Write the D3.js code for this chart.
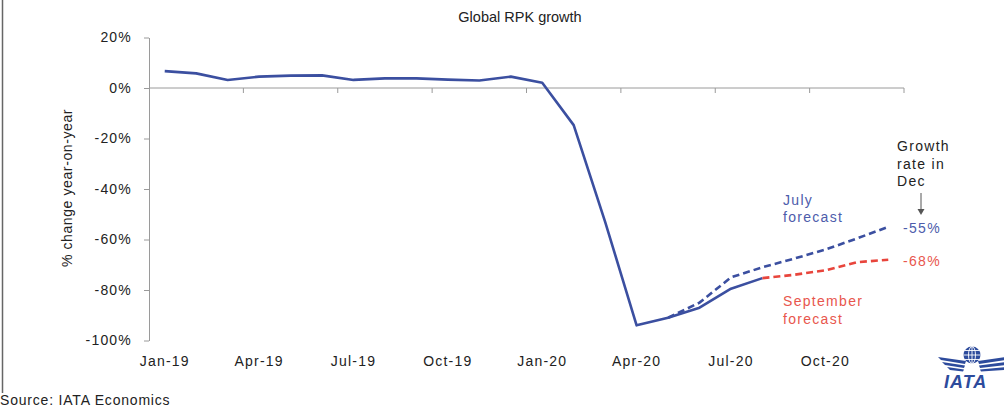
<!DOCTYPE html>
<html>
<head>
<meta charset="utf-8">
<script src="https://cdn.jsdelivr.net/npm/d3@7"></script>
<style>
  body { margin: 0; background: #fff; }
  text { font-family: "Liberation Sans", Arial, sans-serif; }
</style>
</head>
<body>
<div id="chart"></div>
<script>
// data (% change year-on-year)
var months = ["Jan-19","Feb-19","Mar-19","Apr-19","May-19","Jun-19","Jul-19","Aug-19","Sep-19","Oct-19","Nov-19","Dec-19",
              "Jan-20","Feb-20","Mar-20","Apr-20","May-20","Jun-20","Jul-20","Aug-20","Sep-20","Oct-20","Nov-20","Dec-20"];
var actual = [6.7, 5.8, 3.2, 4.5, 4.9, 5.0, 3.2, 3.8, 3.8, 3.3, 3.0, 4.5,
              2.1, -14.7, -53, -94, -91, -87, -79.5, -75.3];
var julyMonths = ["May-20","Jun-20","Jul-20","Aug-20","Sep-20","Oct-20","Nov-20","Dec-20"];
var julyForecast = [-91, -85, -75, -71, -67.6, -64, -59.6, -55];
var sepMonths = ["Aug-20","Sep-20","Oct-20","Nov-20","Dec-20"];
var sepForecast = [-75.3, -74, -72.2, -69, -68];
var yTicks = [20, 0, -20, -40, -60, -80, -100];

var width = 1004, height = 413;
var blue = "#3b4fa0", red = "#e8453c";
var blueText = "#4d5cab", redText = "#e8564d";
var axisColor = "#9a9a9a";

var svg = d3.select("#chart").append("svg")
  .attr("width", width)
  .attr("height", height);

// left border line from the original slide
svg.append("line")
  .attr("x1", 2.5).attr("x2", 2.5).attr("y1", 0).attr("y2", 393)
  .attr("stroke", "#666").attr("stroke-width", 1.5);

var x = d3.scaleBand().domain(months).range([149, 904]);
var y = d3.scaleLinear().domain([-100, 20]).range([340.5, 37.5]);
var half = x.bandwidth() / 2;

// title
svg.append("text")
  .attr("x", 520).attr("y", 22)
  .attr("text-anchor", "middle")
  .style("font-size", "14.5px")
  .attr("fill", "#222")
  .text("Global RPK growth");

// y axis
var yAxis = svg.append("g")
  .attr("transform", "translate(149,0)")
  .call(d3.axisLeft(y).tickValues(yTicks).tickFormat(function (d) { return d + "%"; })
    .tickSize(5).tickSizeOuter(0).tickPadding(12));
yAxis.select(".domain").attr("stroke", axisColor);
yAxis.selectAll(".tick line").attr("stroke", axisColor);
yAxis.selectAll("text")
  .attr("fill", "#222")
  .style("font-size", "14px")
  .style("letter-spacing", "1.2px")
  .style("font-family", "'Liberation Sans', Arial, sans-serif");

svg.append("text")
  .attr("transform", "translate(72,188) rotate(-90)")
  .attr("text-anchor", "middle")
  .style("font-size", "14px")
  .style("letter-spacing", "0.6px")
  .attr("fill", "#222")
  .text("% change year-on-year");

// zero line with tick marks between categories
svg.append("line")
  .attr("x1", 149).attr("x2", 904)
  .attr("y1", y(0)).attr("y2", y(0))
  .attr("stroke", axisColor);

svg.selectAll(".xtick")
  .data(months.filter(function (d, i) { return i > 0 && i % 3 === 0; }))
  .enter().append("line")
  .attr("class", "xtick")
  .attr("x1", function (d) { return x(d); })
  .attr("x2", function (d) { return x(d); })
  .attr("y1", y(0)).attr("y2", y(0) + 5)
  .attr("stroke", axisColor);
svg.append("line")
  .attr("x1", 904).attr("x2", 904).attr("y1", y(0)).attr("y2", y(0) + 5)
  .attr("stroke", axisColor);

// x labels at the bottom
var xAxis = svg.append("g")
  .attr("transform", "translate(0,340.5)")
  .call(d3.axisBottom(x).tickValues(months.filter(function (d, i) { return i % 3 === 0; }))
    .tickSize(0).tickPadding(15.5));
xAxis.select(".domain").remove();
xAxis.selectAll("text")
  .attr("fill", "#222")
  .style("font-size", "14px")
  .style("letter-spacing", "1.2px")
  .style("font-family", "'Liberation Sans', Arial, sans-serif");

// lines
var line = d3.line()
  .x(function (d) { return x(d[0]) + half; })
  .y(function (d) { return y(d[1]); });

svg.append("path")
  .datum(julyMonths.map(function (m, i) { return [m, julyForecast[i]]; }))
  .attr("d", line)
  .attr("fill", "none")
  .attr("stroke", blue)
  .attr("stroke-width", 2.6)
  .attr("stroke-dasharray", "7,4");

svg.append("path")
  .datum(actual.map(function (v, i) { return [months[i], v]; }))
  .attr("d", line)
  .attr("fill", "none")
  .attr("stroke", blue)
  .attr("stroke-width", 2.6)
  .attr("stroke-linejoin", "round");

svg.append("path")
  .datum(sepMonths.map(function (m, i) { return [m, sepForecast[i]]; }))
  .attr("d", line)
  .attr("fill", "none")
  .attr("stroke", red)
  .attr("stroke-width", 2.6)
  .attr("stroke-dasharray", "7,4");

// annotations
function multiline(lines, x0, y0, color, step) {
  var t = svg.append("text")
    .attr("x", x0).attr("y", y0)
    .attr("fill", color)
    .style("font-size", "14px")
    .style("letter-spacing", "1.3px");
  lines.forEach(function (s, i) {
    t.append("tspan").attr("x", x0).attr("dy", i === 0 ? 0 : step).text(s);
  });
}
multiline(["July", "forecast"], 783, 205, blueText, 16.5);
multiline(["September", "forecast"], 783, 306, redText, 18);
multiline(["Growth", "rate in", "Dec"], 897, 151, "#222", 17.5);

svg.append("line")
  .attr("x1", 921).attr("x2", 921).attr("y1", 193).attr("y2", 211)
  .attr("stroke", "#555").attr("stroke-width", 1);
svg.append("path")
  .attr("d", "M917.5,209 L921,215 L924.5,209 Z")
  .attr("fill", "#555");

var lastJuly = julyForecast[julyForecast.length - 1];
var lastSep = sepForecast[sepForecast.length - 1];
svg.append("text")
  .attr("x", 903).attr("y", y(lastJuly) + 6)
  .attr("fill", blueText)
  .style("font-size", "14px").style("letter-spacing", "1.3px")
  .text(lastJuly + "%");
svg.append("text")
  .attr("x", 903).attr("y", y(lastSep) + 6)
  .attr("fill", redText)
  .style("font-size", "14px").style("letter-spacing", "1.3px")
  .text(lastSep + "%");

// source
svg.append("text")
  .attr("x", 0).attr("y", 405)
  .attr("fill", "#222")
  .style("font-size", "14px")
  .style("letter-spacing", "0.8px")
  .text("Source: IATA Economics");

// IATA logo (approximate)
var logo = svg.append("g").attr("fill", "#2d4b9c").attr("stroke", "none");
logo.append("circle").attr("cx", 972).attr("cy", 355).attr("r", 8.5);
var grid = svg.append("g").attr("stroke", "#fff").attr("stroke-width", 0.9).attr("fill", "none");
grid.append("ellipse").attr("cx", 972).attr("cy", 355).attr("rx", 3.5).attr("ry", 8.5);
grid.append("line").attr("x1", 972).attr("x2", 972).attr("y1", 346.5).attr("y2", 363.5);
grid.append("line").attr("x1", 963.5).attr("x2", 980.5).attr("y1", 355).attr("y2", 355);
grid.append("line").attr("x1", 965).attr("x2", 979).attr("y1", 350.5).attr("y2", 350.5);
grid.append("line").attr("x1", 965).attr("x2", 979).attr("y1", 359.5).attr("y2", 359.5);
// wings
logo.append("path").attr("d", "M938,357 L966,361 L965,364 L941,360 Z");
logo.append("path").attr("d", "M942,362 L965,365.5 L964,368 L945,365 Z");
logo.append("path").attr("d", "M947,367 L964,369.5 L963,371.5 L950,370 Z");
logo.append("path").attr("d", "M1006,357 L978,361 L979,364 L1006,360 Z");
logo.append("path").attr("d", "M1006,362 L979,365.5 L980,368 L1006,365 Z");
logo.append("path").attr("d", "M1006,367 L980,369.5 L981,371.5 L1006,370 Z");
svg.append("text")
  .attr("x", 944).attr("y", 388)
  .attr("fill", "#2d4b9c")
  .style("font-size", "18px")
  .style("font-weight", "bold")
  .style("font-style", "italic")
  .style("letter-spacing", "1px")
  .text("IATA");
</script>
</body>
</html>
